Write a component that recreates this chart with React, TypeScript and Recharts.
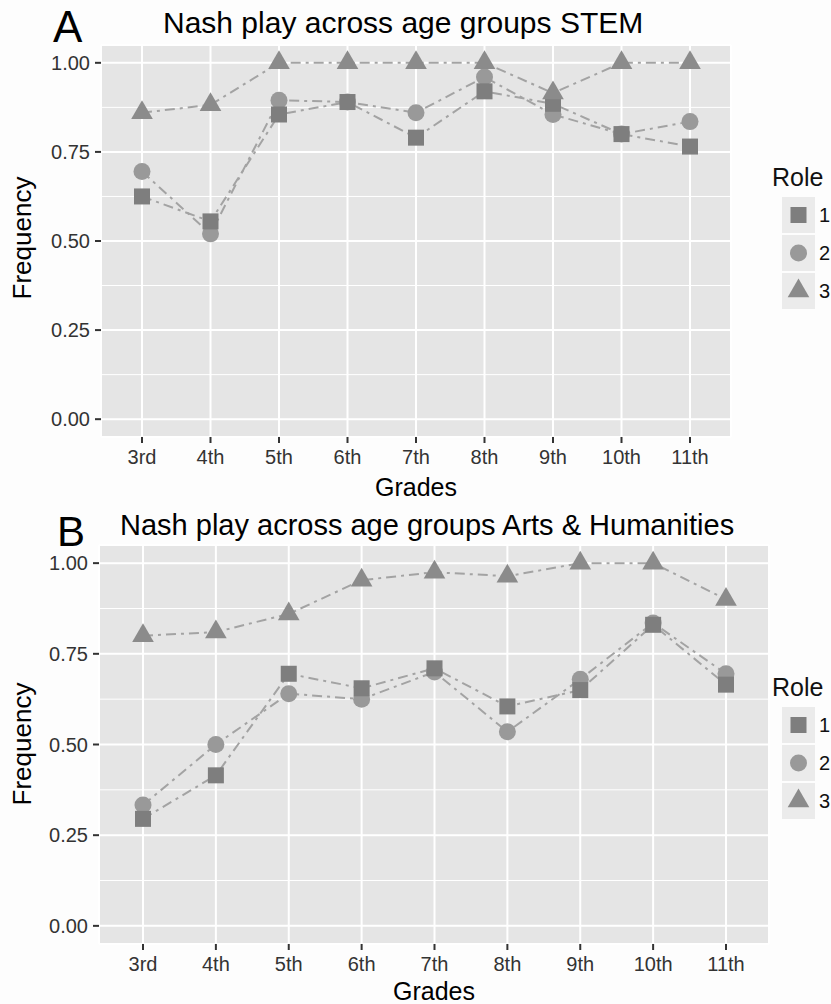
import React from "react";
import {
  LineChart,
  Line,
  XAxis,
  YAxis,
  CartesianGrid,
} from "recharts";

const grades = ["3rd", "4th", "5th", "6th", "7th", "8th", "9th", "10th", "11th"];
const roles = ["1", "2", "3"];
const yTicks = [0, 0.25, 0.5, 0.75, 1];
const yMinor = [0.125, 0.375, 0.625, 0.875];

// STEM panel
const stemRole1 = [0.625, 0.555, 0.855, 0.89, 0.79, 0.92, 0.885, 0.8, 0.765];
const stemRole2 = [0.695, 0.52, 0.895, 0.89, 0.86, 0.96, 0.855, 0.8, 0.835];
const stemRole3 = [0.86, 0.882, 1, 1, 1, 1, 0.915, 1, 1];

// Arts & Humanities panel
const artsRole1 = [0.295, 0.415, 0.695, 0.655, 0.71, 0.605, 0.65, 0.83, 0.665];
const artsRole2 = [0.333, 0.5, 0.64, 0.625, 0.7, 0.535, 0.68, 0.835, 0.695];
const artsRole3 = [0.8, 0.81, 0.86, 0.953, 0.975, 0.964, 1, 1, 0.9];

const FONT = "'Liberation Sans', Arial, Helvetica, sans-serif";
const LINE_COLOR = "#a3a3a3";
const SQUARE_COLOR = "#7e7e7e";
const CIRCLE_COLOR = "#999999";
const TRIANGLE_COLOR = "#8b8b8b";

const Square = ({ cx, cy }: { cx: number; cy: number }) => (
  <rect x={cx - 8} y={cy - 8} width={16} height={16} fill={SQUARE_COLOR} />
);
const Circle = ({ cx, cy }: { cx: number; cy: number }) => (
  <circle cx={cx} cy={cy} r={8.5} fill={CIRCLE_COLOR} />
);
const Triangle = ({ cx, cy }: { cx: number; cy: number }) => {
  const r = 12.5;
  const hw = 0.866 * r;
  return (
    <polygon
      points={`${cx},${cy - r} ${cx + hw},${cy + r / 2} ${cx - hw},${cy + r / 2}`}
      fill={TRIANGLE_COLOR}
    />
  );
};

const shapes = [Square, Circle, Triangle];

const makeDot = (Shape: any, tag: string) => (p: any) => {
  if (p.cx == null || p.cy == null) return <g key={`${tag}-${p.index}`} />;
  return (
    <g key={`${tag}-${p.index}`}>
      <Shape cx={p.cx} cy={p.cy} />
    </g>
  );
};

const buildRows = (r1: number[], r2: number[], r3: number[]) =>
  grades.map((g, i) => ({ grade: g, r1: r1[i], r2: r2[i], r3: r3[i] }));

const stemData = buildRows(stemRole1, stemRole2, stemRole3);
const artsData = buildRows(artsRole1, artsRole2, artsRole3);

const tickStyle = { fontSize: 20, fill: "#333", fontFamily: FONT };

interface PanelProps {
  data: any[];
  width: number;
  height: number;
  margin: { top: number; right: number; bottom: number; left: number };
  pad: { left: number; right: number };
}

const Panel: React.FC<PanelProps> = ({ data, width, height, margin, pad }) => (
  <LineChart width={width} height={height} data={data} margin={margin}>
    <CartesianGrid
      fill="#E5E5E5"
      stroke="#ffffff"
      strokeWidth={1}
      vertical={false}
      horizontalValues={yMinor}
    />
    <CartesianGrid stroke="#ffffff" strokeWidth={2} />
    <XAxis
      dataKey="grade"
      type="category"
      padding={pad}
      height={40}
      axisLine={false}
      tickSize={6}
      tickMargin={7}
      tickLine={{ stroke: "#333", strokeWidth: 2 }}
      tick={tickStyle}
      interval={0}
    />
    <YAxis
      type="number"
      domain={[-0.05, 1.05]}
      ticks={yTicks}
      width={90}
      axisLine={false}
      tickSize={6}
      tickMargin={5}
      tickLine={{ stroke: "#333", strokeWidth: 2 }}
      tick={tickStyle}
      tickFormatter={(v: number) => v.toFixed(2)}
      allowDataOverflow
    />
    {/* points first, dashed lines on top like the original */}
    <Line dataKey="r2" stroke="none" dot={makeDot(Circle, "c")} activeDot={false} isAnimationActive={false} />
    <Line dataKey="r1" stroke="none" dot={makeDot(Square, "s")} activeDot={false} isAnimationActive={false} />
    <Line dataKey="r3" stroke="none" dot={makeDot(Triangle, "t")} activeDot={false} isAnimationActive={false} />
    {["r1", "r2", "r3"].map((k) => (
      <Line
        key={`line-${k}`}
        dataKey={k}
        type="linear"
        stroke={LINE_COLOR}
        strokeWidth={2}
        strokeDasharray="10 5 3 5"
        dot={false}
        activeDot={false}
        isAnimationActive={false}
      />
    ))}
  </LineChart>
);

const LegendBlock = ({ x, titleY, firstY, step }: { x: number; titleY: number; firstY: number; step: number }) => (
  <g>
    <text x={x - 10} y={titleY} fontSize={25} fill="#111" fontFamily={FONT} dominantBaseline="central">
      Role
    </text>
    {roles.map((r, i) => {
      const Shape = shapes[i];
      const cy = firstY + i * step;
      return (
        <g key={r}>
          <rect x={x} y={cy - 18} width={33} height={36} fill="#EBEBEB" />
          <Shape cx={x + 16.5} cy={cy} />
          <text x={x + 37} y={cy} fontSize={20} fill="#111" fontFamily={FONT} dominantBaseline="central">
            {r}
          </text>
        </g>
      );
    })}
  </g>
);

export default function App() {
  return (
    <div
      style={{
        position: "absolute",
        left: 0,
        top: 0,
        width: 831,
        height: 1004,
        background: "#fdfdfd",
        fontFamily: FONT,
      }}
    >
      <div style={{ position: "absolute", left: 0, top: 0 }}>
        <Panel
          data={stemData}
          width={831}
          height={500}
          margin={{ top: 45, right: 100, bottom: 23, left: 11 }}
          pad={{ left: 41, right: 41 }}
        />
      </div>
      <div style={{ position: "absolute", left: 0, top: 500 }}>
        <Panel
          data={artsData}
          width={831}
          height={504}
          margin={{ top: 45, right: 62, bottom: 20, left: 9 }}
          pad={{ left: 44, right: 43 }}
        />
      </div>
      <svg
        width={831}
        height={1004}
        style={{ position: "absolute", left: 0, top: 0, pointerEvents: "none" }}
      >
        <text x={53} y={42} fontSize={44} fill="#000" fontFamily={FONT}>A</text>
        <text x={163} y={33} fontSize={30} fill="#000" fontFamily={FONT}>
          Nash play across age groups STEM
        </text>
        <text x={416} y={496} fontSize={25} fill="#000" fontFamily={FONT} textAnchor="middle">
          Grades
        </text>
        <text
          x={0}
          y={0}
          fontSize={26}
          fill="#000"
          fontFamily={FONT}
          textAnchor="middle"
          dominantBaseline="central"
          transform="translate(22,238) rotate(-90)"
        >
          Frequency
        </text>
        <LegendBlock x={782} titleY={177} firstY={215} step={38} />

        <text x={57} y={546} fontSize={42} fill="#000" fontFamily={FONT}>B</text>
        <text x={120} y={535} fontSize={29} fill="#000" fontFamily={FONT}>
          Nash play across age groups Arts &amp; Humanities
        </text>
        <text x={434} y={1000} fontSize={25} fill="#000" fontFamily={FONT} textAnchor="middle">
          Grades
        </text>
        <text
          x={0}
          y={0}
          fontSize={26}
          fill="#000"
          fontFamily={FONT}
          textAnchor="middle"
          dominantBaseline="central"
          transform="translate(22,744) rotate(-90)"
        >
          Frequency
        </text>
        <LegendBlock x={782} titleY={687} firstY={725} step={38} />
      </svg>
    </div>
  );
}
